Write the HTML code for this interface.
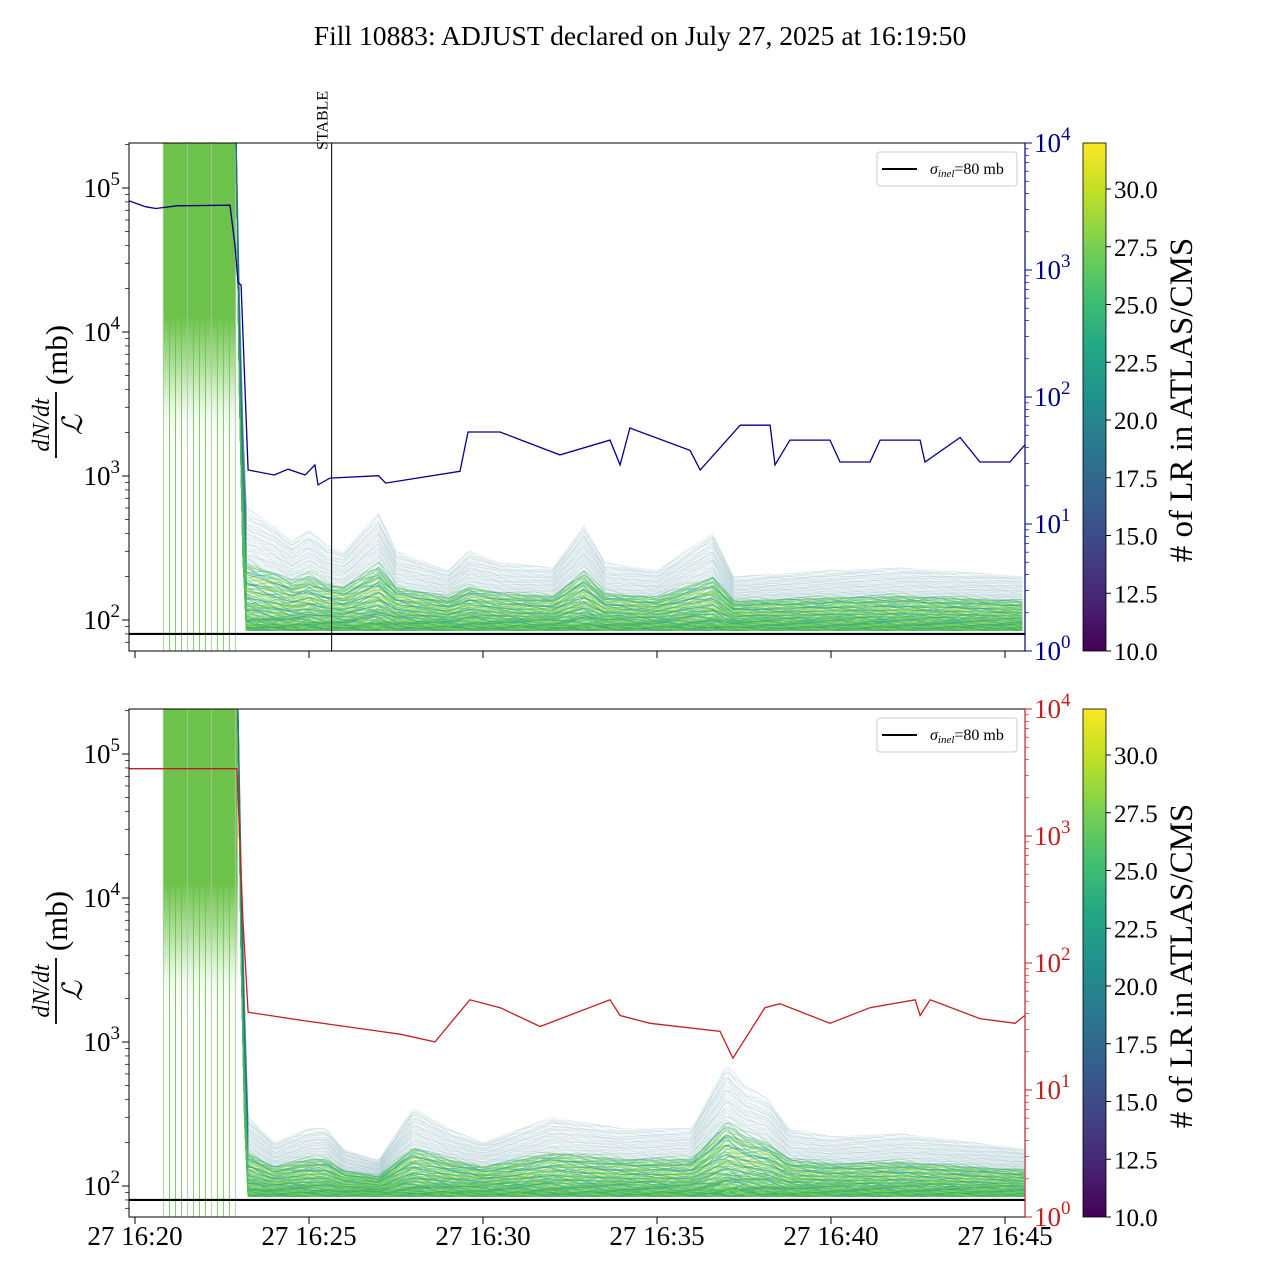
<!DOCTYPE html>
<html><head><meta charset="utf-8"><style>
html,body{margin:0;padding:0;background:#fff;}
svg{display:block;font-family:"Liberation Serif",serif;}
</style></head><body>
<svg id="chart" width="1280" height="1280" viewBox="0 0 1280 1280" xmlns="http://www.w3.org/2000/svg">
<defs>
<linearGradient id="viridis" x1="0" y1="1" x2="0" y2="0">
<stop offset="0" stop-color="#440154"/><stop offset="0.1" stop-color="#482475"/><stop offset="0.2" stop-color="#414487"/><stop offset="0.3" stop-color="#355f8d"/><stop offset="0.4" stop-color="#2a788e"/><stop offset="0.5" stop-color="#21918c"/><stop offset="0.6" stop-color="#22a884"/><stop offset="0.7" stop-color="#44bf70"/><stop offset="0.8" stop-color="#7ad151"/><stop offset="0.9" stop-color="#bddf26"/><stop offset="1" stop-color="#fde725"/>
</linearGradient>
<linearGradient id="preFill" x1="0" y1="0" x2="0" y2="1">
<stop offset="0" stop-color="#6cc24a" stop-opacity="1"/><stop offset="0.34" stop-color="#6cc24a" stop-opacity="1"/><stop offset="0.44" stop-color="#7ac95a" stop-opacity="0.6"/><stop offset="0.54" stop-color="#9cd68a" stop-opacity="0.12"/><stop offset="0.62" stop-color="#fff" stop-opacity="0"/>
</linearGradient>
<clipPath id="clipTop"><rect x="129" y="143" width="896" height="508"/></clipPath>
<clipPath id="clipBot"><rect x="129" y="709" width="896" height="508"/></clipPath>
</defs>
<text x="640" y="45" text-anchor="middle" font-size="27.6">Fill 10883: ADJUST declared on July 27, 2025 at 16:19:50</text>
<g id="root"></g>
</svg>
<script>
// ---- data ----
const lrTimesTop = [2.9, 3.05, 3.2, 4.0, 4.5, 5.0, 5.5, 6.0, 7.0, 7.5, 9.0, 9.6, 10.5, 12.0, 12.9, 13.5, 15.0, 16.6, 17.2, 20.0, 22.0, 25.6];
const lrUpperTop = [300000, 5000, 600, 450, 350, 420, 330, 300, 550, 300, 220, 300, 250, 230, 450, 250, 220, 400, 200, 220, 230, 200];
const lrLowerTop = [200000, 500, 85, 85, 85, 85, 85, 85, 85, 85, 85, 85, 85, 85, 85, 85, 85, 85, 85, 85, 85, 85];
const lrTimesBot = [2.95, 3.1, 3.25, 4.0, 5.0, 5.5, 6.0, 7.0, 8.0, 9.0, 10.0, 12.0, 14.0, 16.0, 17.0, 17.5, 18.2, 18.8, 20.0, 22.0, 25.6];
const lrUpperBot = [300000, 5000, 300, 200, 250, 250, 180, 150, 350, 250, 200, 300, 250, 250, 700, 500, 400, 250, 220, 230, 180];
const lrLowerBot = [200000, 500, 85, 85, 85, 85, 85, 85, 85, 85, 85, 85, 85, 85, 85, 85, 85, 85, 85, 85, 85];
const lumiTimesTop = [-0.17, 0.3, 0.6, 1.2, 2.73, 2.88, 2.96, 3.05, 3.25, 4.0, 4.4, 4.89, 5.17, 5.26, 5.6, 7.0, 7.2, 9.34, 9.57, 10.49, 12.21, 13.65, 13.94, 14.22, 15.95, 16.24, 17.39, 18.25, 18.39, 18.82, 19.97, 20.26, 21.12, 21.41, 22.56, 22.7, 23.71, 24.28, 25.14, 25.57];
const lumiValsTop = [3500, 3150, 3050, 3200, 3240, 1500, 800, 760, 26.6, 24.3, 27, 24.3, 29.2, 20.3, 23, 24, 21, 26, 53, 53, 35, 45.8, 29.2, 57, 38, 26.6, 60, 60, 29.2, 45.8, 45.8, 30.8, 30.8, 45.8, 45.8, 30.8, 48, 30.8, 30.8, 41.9];
const lumiTimesBot = [-0.17, 2.93, 3.02, 3.1, 3.25, 4.74, 7.62, 8.62, 9.62, 10.49, 11.64, 13.65, 13.94, 14.8, 16.81, 17.18, 18.1, 18.53, 19.97, 21.12, 22.42, 22.56, 22.85, 24.28, 25.29, 25.57];
const lumiValsBot = [3390, 3390, 800, 220, 41, 35.5, 27.5, 23.9, 51.3, 44.5, 31.6, 51.3, 38.6, 33.5, 29, 17.8, 44.5, 47.8, 33.5, 44.5, 51.3, 38.6, 51.3, 36.5, 33.5, 38.6];
const xTickMinutes = [0, 5, 10, 15, 20, 25];
const xTickLabels = ["27 16:20", "27 16:25", "27 16:30", "27 16:35", "27 16:40", "27 16:45"];
const cbTicks = [10.0, 12.5, 15.0, 17.5, 20.0, 22.5, 25.0, 27.5, 30.0];
const sigmaInel = 80;
const stableMinute = 5.65;

// ---- helpers ----
const NS = "http://www.w3.org/2000/svg";
const root = document.getElementById("root");
function el(tag, attrs, parent) {
  const e = document.createElementNS(NS, tag);
  for (const k in attrs) e.setAttribute(k, attrs[k]);
  (parent || root).appendChild(e);
  return e;
}
const X0 = 129, X1 = 1025;
const xScale = t => 135 + 34.8 * t;
function leftY(v, off) { return off + 620 - 144 * (Math.log10(v) - 2); }
function rightY(v, off) { return off + 651 - 127 * Math.log10(v); }
function interp(ts, vs, t) {
  if (t <= ts[0]) return vs[0];
  for (let i = 1; i < ts.length; i++) {
    if (t <= ts[i]) { const f = (t - ts[i-1]) / (ts[i] - ts[i-1]); return Math.exp(Math.log(vs[i-1]) * (1 - f) + Math.log(vs[i]) * f); }
  }
  return vs[vs.length - 1];
}
const vStops = ["#440154","#482475","#414487","#355f8d","#2a788e","#21918c","#22a884","#44bf70","#7ad151","#bddf26","#fde725"];
function hex(c){return [parseInt(c.slice(1,3),16),parseInt(c.slice(3,5),16),parseInt(c.slice(5,7),16)];}
function viridis(f) {
  f = Math.max(0, Math.min(1, f)); const p = f * 10; const i = Math.min(9, Math.floor(p)); const r = p - i;
  const a = hex(vStops[i]), b = hex(vStops[i+1]);
  return "rgb(" + a.map((v,j)=>Math.round(v+(b[j]-v)*r)).join(",") + ")";
}

function panel(off, clipId, lrT, lrU, lrL, lT, lV, lumiColor, isBottom) {
  const g = el("g", {});
  
  
  const plot = el("g", {"clip-path": "url(#" + clipId + ")"}, g);
  // pre-drop dense region
  const pre = el("rect", {x: xScale(0.8), y: off + 143, width: xScale(lrT[0]) - xScale(0.8), height: 508, fill: "url(#preFill)"}, plot);
  
  
  let idx = 0;
  for (let t = 0.82; t <= 2.95; t += 0.172) {
    const ln = el("line", {x1: xScale(t), x2: xScale(t), y1: off + 143, y2: off + 651, stroke: idx % 4 === 0 ? "#a8c8a0" : "#6cc24a", "stroke-width": 1, opacity: 0.85}, plot);
    
    
    idx++;
  }
  // LR lines
  const N = 240;
  const tsamp = [];
  for (let t = lrT[0]; t <= 25.6; t += 0.1) tsamp.push(t);
  for (let k = 0; k < N; k++) {
    const f = Math.pow((k + 0.5) / N, 2.3);
    const wig = 0.05 * Math.sin(k * 1.7);
    const top = f > 0.55;
    const cv = top ? 14 + 10 * ((k * 0.618) % 1) : 21 + 9 * ((k * 0.618) % 1);
    let d = "";
    tsamp.forEach((t, i) => {
      const u = interp(lrT, lrU, t), l = interp(lrT, lrL, t);
      const lf = Math.max(0, Math.min(1, f + wig * Math.sin(t * 3 + k)));
      const v = Math.exp(Math.log(l) + (Math.log(u) - Math.log(l)) * lf);
      d += (i ? "L" : "M") + xScale(t).toFixed(1) + "," + leftY(v, off).toFixed(1);
    });
    const p = el("path", {d: d, fill: "none", stroke: viridis((cv - 10) / 22), "stroke-width": 0.9, opacity: top ? 0.09 : 0.45}, plot);
    
    
  }
  // sigma line
  const sl = el("line", {x1: X0, x2: X1, y1: leftY(sigmaInel, off), y2: leftY(sigmaInel, off), stroke: "#000", "stroke-width": 2.2}, plot);
  
  
  // luminosity line
  let d = "";
  lT.forEach((t, i) => { d += (i ? "L" : "M") + xScale(t).toFixed(1) + "," + rightY(lV[i], off).toFixed(1); });
  const lum = el("path", {d: d, fill: "none", stroke: lumiColor, "stroke-width": 1.3}, plot);
  
  
  // frame
  const fr = el("rect", {x: X0, y: off + 143, width: X1 - X0, height: 508, fill: "none", stroke: "#000", "stroke-width": 1}, g);
  
  
  const rs = el("line", {x1: X1, x2: X1, y1: off + 143, y2: off + 651, stroke: lumiColor, "stroke-width": 1.2}, g);
  
  
  // left ticks
  for (let e = 1; e <= 5; e++) {
    for (let m = 1; m <= 9; m++) {
      const v = m * Math.pow(10, e); const y = leftY(v, off);
      if (y < off + 143 || y > off + 651) continue;
      el("line", {x1: X0 - (m === 1 ? 7 : 4), x2: X0, y1: y, y2: y, stroke: "#000", "stroke-width": m === 1 ? 1 : 0.7}, g);
      if (m === 1) {
        const t = el("text", {x: 120, y: y + 9, "text-anchor": "end", "font-size": 27}, g);
        
        
        t.innerHTML = '10<tspan dy="-12" font-size="19">' + e + '</tspan>';
      }
    }
  }
  // right ticks
  for (let e = 0; e <= 4; e++) {
    for (let m = 1; m <= 9; m++) {
      const v = m * Math.pow(10, e); const y = rightY(v, off);
      if (y < off + 142 || y > off + 652) continue;
      el("line", {x1: X1, x2: X1 + (m === 1 ? 7 : 4), y1: y, y2: y, stroke: lumiColor, "stroke-width": m === 1 ? 1 : 0.7}, g);
      if (m === 1) {
        const t = el("text", {x: 1034, y: y + 9, "font-size": 27, fill: lumiColor}, g);
        
        
        t.innerHTML = '10<tspan dy="-12" font-size="19">' + e + '</tspan>';
      }
    }
  }
  // x ticks
  xTickMinutes.forEach((m, i) => {
    const x = xScale(m);
    el("line", {x1: x, x2: x, y1: off + 651, y2: off + 658, stroke: "#000"}, g);
    if (isBottom) {
      const t = el("text", {x: x, y: off + 679, "text-anchor": "middle", "font-size": 27}, g);
      
      
      t.textContent = xTickLabels[i];
    }
  });
  // y label
  const yl = el("g", {transform: "translate(56," + (off + 400) + ") rotate(-90)"}, g);
  
  
  el("text", {x: -25, y: -7, "text-anchor": "middle", "font-size": 24, "font-style": "italic"}, yl).textContent = "dN/dt";
  el("line", {x1: -58, x2: 8, y1: 0, y2: 0, stroke: "#000", "stroke-width": 1.8}, yl);
  el("text", {x: -25, y: 26, "text-anchor": "middle", "font-size": 28, "font-style": "italic"}, yl).textContent = "ℒ";
  el("text", {x: 45, y: 11, "text-anchor": "middle", "font-size": 31}, yl).textContent = "(mb)";
  // legend
  const lg = el("g", {}, g);
  
  
  el("rect", {x: 877, y: off + 152, width: 140, height: 34, rx: 3, fill: "#fff", "fill-opacity": 0.85, stroke: "#ccc"}, lg);
  el("line", {x1: 882, x2: 917, y1: off + 169, y2: off + 169, stroke: "#000", "stroke-width": 2}, lg);
  const lt = el("text", {x: 930, y: off + 174, "font-size": 16}, lg);
  lt.innerHTML = '<tspan font-style="italic">σ</tspan><tspan font-style="italic" font-size="11" dy="3">inel</tspan><tspan dy="-3">=80 mb</tspan>';
  // colorbar
  const cb = el("g", {}, g);
  
  
  el("rect", {x: 1083, y: off + 143, width: 23, height: 508, fill: "url(#viridis)", stroke: "#000", "stroke-width": 0.8}, cb);
  cbTicks.forEach(v => {
    const y = off + 651 - (v - 10) * 23.1;
    el("line", {x1: 1106, x2: 1111, y1: y, y2: y, stroke: "#000"}, cb);
    const t = el("text", {x: 1114, y: y + 9, "font-size": 25}, cb);
    
    
    t.textContent = v.toFixed(1);
  });
  const ct = el("text", {x: 0, y: 0, "font-size": 33, "text-anchor": "middle", transform: "translate(1192," + (off + 400) + ") rotate(-90)"}, cb);
  
  
  ct.textContent = "# of LR in ATLAS/CMS";
}
panel(0, "clipTop", lrTimesTop, lrUpperTop, lrLowerTop, lumiTimesTop, lumiValsTop, "#00008b", false);
panel(566, "clipBot", lrTimesBot, lrUpperBot, lrLowerBot, lumiTimesBot, lumiValsBot, "#c41e1e", true);
// stable marker
const sx = xScale(stableMinute);
const sm = el("line", {x1: sx, x2: sx, y1: 143, y2: 651, stroke: "#000", "stroke-width": 1});


const st = el("text", {x: 0, y: 0, "font-size": 16, transform: "translate(" + (sx - 4) + ",150) rotate(-90)"});


st.textContent = "STABLE";
</script>
</body></html>
